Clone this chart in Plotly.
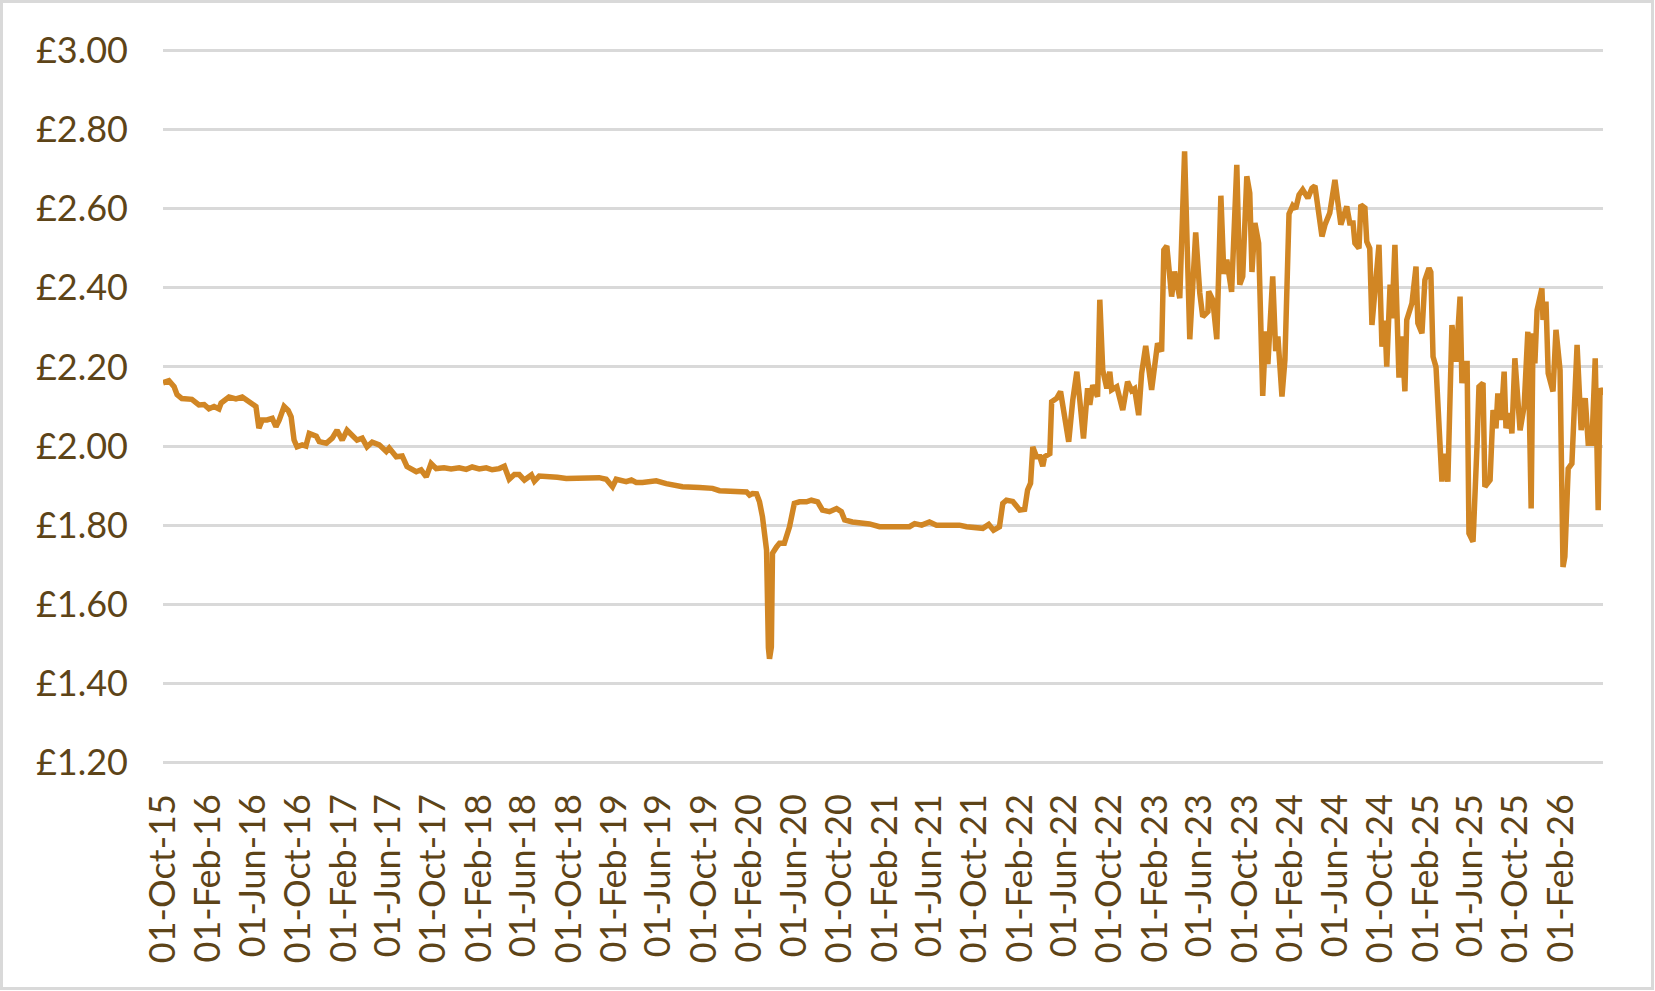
import plotly.graph_objects as go

# weekly price readings (approximate)
dates = [
    "2015-10-01", "2015-10-17", "2015-10-31", "2015-11-08", "2015-11-21", "2015-12-05", "2015-12-18",
    "2016-01-06", "2016-01-20", "2016-02-02", "2016-02-16", "2016-02-29", "2016-03-06", "2016-03-27",
    "2016-04-15", "2016-05-02", "2016-05-20", "2016-06-08", "2016-06-16", "2016-06-25", "2016-07-08",
    "2016-07-22", "2016-08-01", "2016-08-10", "2016-08-23", "2016-09-03", "2016-09-11", "2016-09-19",
    "2016-09-27", "2016-10-11", "2016-10-21", "2016-10-30", "2016-11-18", "2016-11-26", "2016-12-15",
    "2016-12-31", "2017-01-13", "2017-01-27", "2017-02-09", "2017-02-23", "2017-03-08", "2017-03-22",
    "2017-04-04", "2017-04-18", "2017-05-07", "2017-05-26", "2017-06-03", "2017-06-22", "2017-07-08",
    "2017-07-21", "2017-08-15", "2017-08-28", "2017-09-11", "2017-09-24", "2017-10-08", "2017-10-29",
    "2017-11-17", "2017-12-09", "2017-12-28", "2018-01-13", "2018-02-01", "2018-02-20", "2018-03-08",
    "2018-03-27", "2018-04-10", "2018-04-23", "2018-05-07", "2018-05-20", "2018-06-03", "2018-06-22",
    "2018-06-30", "2018-07-13", "2018-08-09", "2018-08-31", "2018-09-24", "2018-10-29", "2018-12-22",
    "2019-01-10", "2019-01-27", "2019-02-06", "2019-02-20", "2019-03-05", "2019-03-19", "2019-04-01",
    "2019-04-18", "2019-05-07", "2019-05-25", "2019-06-21", "2019-07-18", "2019-08-04", "2019-09-19",
    "2019-10-24", "2019-11-12", "2019-12-17", "2020-01-24", "2020-02-01", "2020-02-09", "2020-02-20",
    "2020-02-28", "2020-03-07", "2020-03-18", "2020-03-23", "2020-03-26", "2020-03-31", "2020-04-03",
    "2020-04-14", "2020-04-22", "2020-05-05", "2020-05-19", "2020-06-01", "2020-06-15", "2020-07-04",
    "2020-07-17", "2020-08-03", "2020-08-16", "2020-09-04", "2020-09-23", "2020-10-06", "2020-10-15",
    "2020-11-05", "2020-11-24", "2020-12-21", "2021-01-17", "2021-02-13", "2021-03-12", "2021-04-08",
    "2021-04-22", "2021-05-11", "2021-06-01", "2021-06-20", "2021-07-12", "2021-08-08", "2021-08-21",
    "2021-09-09", "2021-10-01", "2021-10-23", "2021-11-08", "2021-11-21", "2021-12-07", "2021-12-16",
    "2021-12-26", "2022-01-12", "2022-01-31", "2022-02-13", "2022-02-21", "2022-03-01", "2022-03-07",
    "2022-03-17", "2022-03-26", "2022-04-03", "2022-04-08", "2022-04-22", "2022-04-27", "2022-05-11",
    "2022-05-21", "2022-06-01", "2022-06-12", "2022-06-23", "2022-07-04", "2022-07-12", "2022-07-22",
    "2022-08-02", "2022-08-08", "2022-08-16", "2022-08-29", "2022-09-04", "2022-09-12", "2022-09-23",
    "2022-10-01", "2022-10-06", "2022-10-20", "2022-11-05", "2022-11-18", "2022-11-29", "2022-12-07",
    "2022-12-18", "2022-12-26", "2023-01-06", "2023-01-22", "2023-02-07", "2023-02-18", "2023-02-24",
    "2023-03-04", "2023-03-17", "2023-03-25", "2023-04-08", "2023-04-21", "2023-05-05", "2023-05-21",
    "2023-06-01", "2023-06-09", "2023-06-23", "2023-06-25", "2023-07-06", "2023-07-17", "2023-07-28",
    "2023-08-05", "2023-08-13", "2023-08-26", "2023-09-09", "2023-09-17", "2023-09-25", "2023-10-06",
    "2023-10-14", "2023-10-20", "2023-10-28", "2023-11-07", "2023-11-18", "2023-11-26", "2023-12-02",
    "2023-12-15", "2023-12-23", "2023-12-29", "2024-01-09", "2024-01-17", "2024-01-28", "2024-02-07",
    "2024-02-15", "2024-02-24", "2024-03-05", "2024-03-19", "2024-03-30", "2024-04-07", "2024-04-26",
    "2024-05-04", "2024-05-17", "2024-05-31", "2024-06-16", "2024-07-02", "2024-07-10", "2024-07-19",
    "2024-07-24", "2024-08-04", "2024-08-09", "2024-08-20", "2024-08-25", "2024-09-02", "2024-09-08",
    "2024-09-27", "2024-10-05", "2024-10-13", "2024-10-18", "2024-10-27", "2024-11-01", "2024-11-09",
    "2024-11-20", "2024-11-28", "2024-12-06", "2024-12-11", "2024-12-25", "2025-01-05", "2025-01-10",
    "2025-01-21", "2025-01-29", "2025-02-09", "2025-02-14", "2025-02-20", "2025-02-28", "2025-03-16",
    "2025-03-21", "2025-04-01", "2025-04-12", "2025-04-23", "2025-05-04", "2025-05-09", "2025-05-17",
    "2025-05-23", "2025-05-28", "2025-06-08", "2025-06-19", "2025-06-24", "2025-07-05", "2025-07-10",
    "2025-07-24", "2025-08-01", "2025-08-09", "2025-08-14", "2025-08-23", "2025-08-31", "2025-09-05",
    "2025-09-16", "2025-09-21", "2025-09-29", "2025-10-13", "2025-10-24", "2025-11-03", "2025-11-12",
    "2025-11-17", "2025-11-22", "2025-11-28", "2025-12-11", "2025-12-14", "2025-12-22", "2025-12-28",
    "2026-01-10", "2026-01-18", "2026-01-29", "2026-02-06", "2026-02-11", "2026-02-20", "2026-03-02",
    "2026-03-16", "2026-03-27", "2026-04-07", "2026-04-15", "2026-04-25", "2026-05-04", "2026-05-12",
    "2026-05-17", "2026-05-25",
]

prices = [
    2.160, 2.165, 2.150, 2.130, 2.120, 2.120, 2.118,
    2.104, 2.105, 2.094, 2.100, 2.094, 2.109, 2.124,
    2.119, 2.124, 2.112, 2.100, 2.045, 2.066, 2.066,
    2.070, 2.049, 2.066, 2.100, 2.090, 2.074, 2.015,
    1.998, 2.003, 2.000, 2.032, 2.025, 2.011, 2.007,
    2.020, 2.040, 2.015, 2.040, 2.025, 2.015, 2.020,
    1.998, 2.010, 2.003, 1.986, 1.995, 1.973, 1.975,
    1.948, 1.935, 1.940, 1.922, 1.956, 1.943, 1.945,
    1.942, 1.945, 1.941, 1.947, 1.942, 1.945, 1.940,
    1.943, 1.949, 1.916, 1.928, 1.928, 1.914, 1.927,
    1.911, 1.924, 1.924, 1.921, 1.918, 1.920, 1.920,
    1.916, 1.897, 1.916, 1.913, 1.910, 1.914, 1.908,
    1.908, 1.910, 1.912, 1.905, 1.901, 1.897, 1.895,
    1.893, 1.887, 1.887, 1.884, 1.876, 1.880, 1.879,
    1.859, 1.821, 1.737, 1.490, 1.462, 1.492, 1.729,
    1.745, 1.754, 1.754, 1.796, 1.855, 1.859, 1.859,
    1.863, 1.859, 1.838, 1.834, 1.842, 1.834, 1.813,
    1.808, 1.806, 1.803, 1.796, 1.796, 1.796, 1.796,
    1.804, 1.800, 1.808, 1.800, 1.800, 1.800, 1.800,
    1.796, 1.795, 1.792, 1.802, 1.787, 1.796, 1.855,
    1.863, 1.860, 1.838, 1.840, 1.889, 1.906, 1.998,
    1.973, 1.973, 1.949, 1.973, 1.981, 2.112, 2.121,
    2.138, 2.083, 2.011, 2.116, 2.188, 2.116, 2.019,
    2.146, 2.104, 2.154, 2.125, 2.370, 2.192, 2.146,
    2.188, 2.142, 2.150, 2.091, 2.163, 2.140, 2.145,
    2.078, 2.184, 2.253, 2.142, 2.260, 2.239, 2.496,
    2.506, 2.378, 2.441, 2.374, 2.745, 2.270, 2.540,
    2.387, 2.327, 2.340, 2.391, 2.370, 2.270, 2.633,
    2.435, 2.471, 2.390, 2.711, 2.408, 2.429, 2.682,
    2.640, 2.440, 2.564, 2.513, 2.127, 2.290, 2.207,
    2.429, 2.240, 2.277, 2.125, 2.218, 2.587, 2.608,
    2.600, 2.635, 2.648, 2.627, 2.652, 2.658, 2.530,
    2.559, 2.589, 2.673, 2.560, 2.606, 2.564, 2.564,
    2.513, 2.500, 2.610, 2.602, 2.517, 2.500, 2.306,
    2.509, 2.251, 2.317, 2.201, 2.408, 2.323, 2.509,
    2.173, 2.277, 2.138, 2.319, 2.361, 2.454, 2.311,
    2.285, 2.420, 2.450, 2.440, 2.226, 2.200, 1.910,
    1.981, 1.910, 2.306, 2.213, 2.378, 2.159, 2.209,
    2.209, 1.779, 1.758, 2.007, 2.150, 2.159, 1.897,
    1.914, 2.091, 2.045, 2.133, 2.066, 2.188, 2.045,
    2.083, 2.032, 2.222, 2.040, 2.100, 2.289, 1.842,
    2.285, 2.209, 2.344, 2.399, 2.319, 2.365, 2.184,
    2.138, 2.294, 2.192, 1.694, 1.720, 1.943, 1.956,
    2.256, 2.040, 2.121, 2.007, 2.007, 2.222, 1.838,
    2.146, 2.129,
]

y_ticks = [1.2, 1.4, 1.6, 1.8, 2.0, 2.2, 2.4, 2.6, 2.8, 3.0]
y_labels = ["£1.20", "£1.40", "£1.60", "£1.80", "£2.00", "£2.20", "£2.40", "£2.60", "£2.80", "£3.00"]

text_color = "#5d4418"
font_family = "Lato, 'Open Sans', sans-serif"

fig = go.Figure()
fig.add_trace(go.Scatter(
    x=dates,
    y=prices,
    mode="lines",
    line=dict(color="#D18624", width=5.5),
    showlegend=False,
))

# plot area in pixels: x 163..1603, y 49..764
fig.update_layout(
    width=1655,
    height=991,
    margin=dict(l=163, r=52, t=49, b=227),
    paper_bgcolor="white",
    plot_bgcolor="white",
    font=dict(family=font_family, size=36, color=text_color),
    xaxis=dict(
        type="date",
        range=["2015-10-01", "2026-05-25"],
        tick0="2015-10-01",
        dtick="M4",
        tickformat="%d-%b-%y",
        tickangle=-90,
        showgrid=False,
        zeroline=False,
        showline=False,
        ticks="",
        ticklabelstandoff=22,
        tickfont=dict(size=36, color=text_color),
    ),
    yaxis=dict(
        # padded a hair so the end gridlines are not clipped away
        range=[1.196, 3.004],
        tickvals=y_ticks,
        ticktext=y_labels,
        showgrid=True,
        gridcolor="#d9d9d9",
        gridwidth=2.5,
        zeroline=False,
        showline=False,
        ticks="",
        ticklabelstandoff=34,
        tickfont=dict(size=36, color=text_color),
    ),
    shapes=[dict(
        type="rect",
        xref="paper", yref="paper",
        x0=(1.5 - 163) / 1440, x1=(1652.5 - 163) / 1440,
        y0=(764 - 988.5) / 715, y1=(764 - 1.5) / 715,
        line=dict(color="#d9d9d9", width=3),
        fillcolor="rgba(0,0,0,0)",
        layer="below",
    )],
)

# the page body has a default margin; drop it so the figure sits at the corner
fig.write_html(
    "out.html",
    config={"displayModeBar": False},
    post_script="document.body.style.margin='0';",
)
